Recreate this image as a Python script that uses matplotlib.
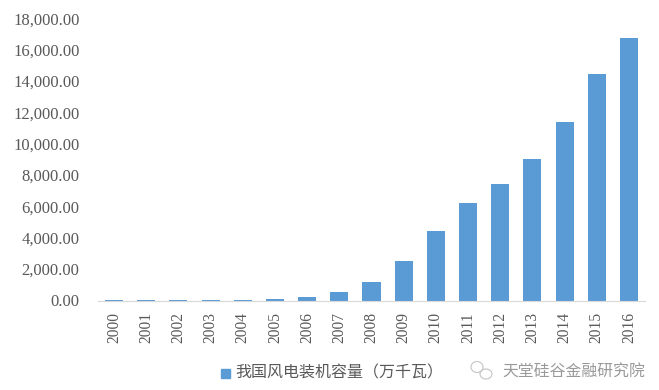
import matplotlib
matplotlib.use('Agg')
import matplotlib.pyplot as plt
import numpy as np
from matplotlib.patches import Rectangle, Ellipse
from matplotlib.transforms import ScaledTranslation

plt.rcParams['font.family'] = ['Noto Sans CJK SC', 'DejaVu Sans']

years = ['2000', '2001', '2002', '2003', '2004', '2005', '2006', '2007', '2008',
         '2009', '2010', '2011', '2012', '2013', '2014', '2015', '2016']
capacity = [34, 40, 47, 57, 76, 126, 260, 590, 1220,
            2580, 4470, 6240, 7500, 9100, 11430, 14500, 16800]
y_ticks = [0, 2000, 4000, 6000, 8000, 10000, 12000, 14000, 16000, 18000]
series_name = '我国风电装机容量（万千瓦）'
watermark = '天堂硅谷金融研究院'

text_color = '#595959'
bar_color = '#5b9bd5'

fig = plt.figure(figsize=(6.59, 3.90), dpi=100)
ax = fig.add_axes([98 / 659, 1 - 301 / 390, (645 - 98) / 659, (301 - 19.5) / 390])

x = np.arange(len(years))
ax.bar(x, capacity, width=0.56, color=bar_color)

ax.set_xlim(-0.5, len(years) - 0.5)
ax.set_ylim(0, 18000)
ax.set_yticks(y_ticks)
ax.set_yticklabels(['{:,.2f}'.format(v) for v in y_ticks],
                   family='Liberation Serif', fontsize=12, color=text_color)
ax.set_xticks(x)
ax.set_xticklabels(years, rotation=90, family='Liberation Serif',
                   fontsize=11.2, color=text_color)
ax.tick_params(length=0)
ax.tick_params(axis='x', pad=8)
ax.tick_params(axis='y', pad=13.3)

# y labels sit a pixel higher in the original
shift = ScaledTranslation(0, 1 / 100, fig.dpi_scale_trans)
for label in ax.get_yticklabels():
    label.set_transform(label.get_transform() + shift)

for side in ['top', 'right', 'left']:
    ax.spines[side].set_visible(False)
ax.spines['bottom'].set_color('#d9d9d9')

# legend
fig.add_artist(Rectangle((221 / 659, 1 - 378 / 390), 9 / 659, 9 / 390,
                         transform=fig.transFigure, color=bar_color))
fig.text(235 / 659, 1 - 373 / 390, series_name, fontsize=11.5, color=text_color,
         va='center', ha='left')

# watermark with the wechat outline
fig.text(645 / 659, 1 - 372 / 390, watermark, fontsize=11.4, color='#999999',
         va='center', ha='right')
fig.add_artist(Ellipse((477 / 659, 1 - 367 / 390), 12 / 659, 11 / 390, fill=False,
                       ec='#c4c4c4', lw=0.8, transform=fig.transFigure))
fig.add_artist(Ellipse((486 / 659, 1 - 374 / 390), 12 / 659, 10 / 390, fill=False,
                       ec='#c4c4c4', lw=0.8, transform=fig.transFigure))

fig.savefig('out.png', dpi=100)
